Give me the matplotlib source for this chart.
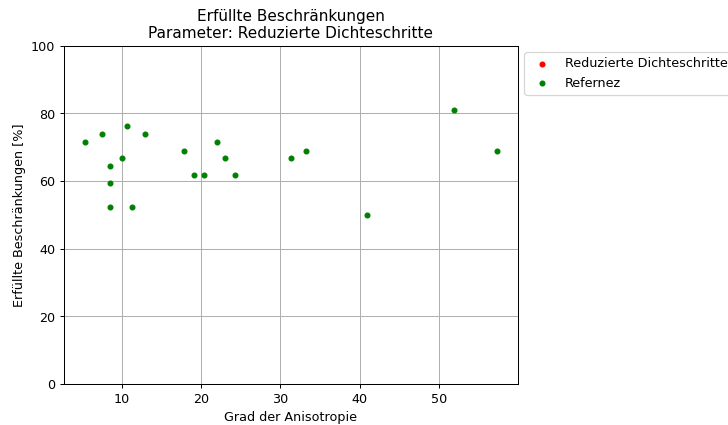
import matplotlib
matplotlib.use('Agg')
import matplotlib.pyplot as plt

# Grad der Anisotropie / erfuellte Beschraenkungen in %
aniso_ref = [5.36, 7.5, 10.67, 12.94, 8.52, 10.04, 8.52, 8.52, 11.3, 17.87,
             19.13, 20.4, 22.04, 23.05, 24.3, 31.39, 33.28, 40.87, 51.86, 57.29]
erf_ref = [71.4, 73.8, 76.2, 73.8, 64.3, 66.7, 59.5, 52.4, 52.4, 69.0,
           61.9, 61.9, 71.4, 66.7, 61.9, 66.7, 69.0, 50.0, 81.0, 69.0]

aniso_red = []
erf_red = []

DPI = 91.5
fig = plt.figure(figsize=(728.2 / DPI, 425.2 / DPI), dpi=DPI)
ax = fig.add_axes([0.088, 0.0965, 0.623, 0.7955])

ax.scatter(aniso_red, erf_red, color='red', s=14, label='Reduzierte Dichteschritte')
ax.scatter(aniso_ref, erf_ref, color='green', s=14, label='Refernez')

ax.set_ylim(0, 100)
ax.set_xlabel('Grad der Anisotropie')
ax.set_ylabel('Erfüllte Beschränkungen [%]')
ax.set_title('Erfüllte Beschränkungen\nParameter: Reduzierte Dichteschritte')
ax.grid(True)
ax.set_axisbelow(True)
ax.legend(loc='upper left', bbox_to_anchor=(1.0, 1.0))

fig.savefig('out.png', dpi=DPI)
